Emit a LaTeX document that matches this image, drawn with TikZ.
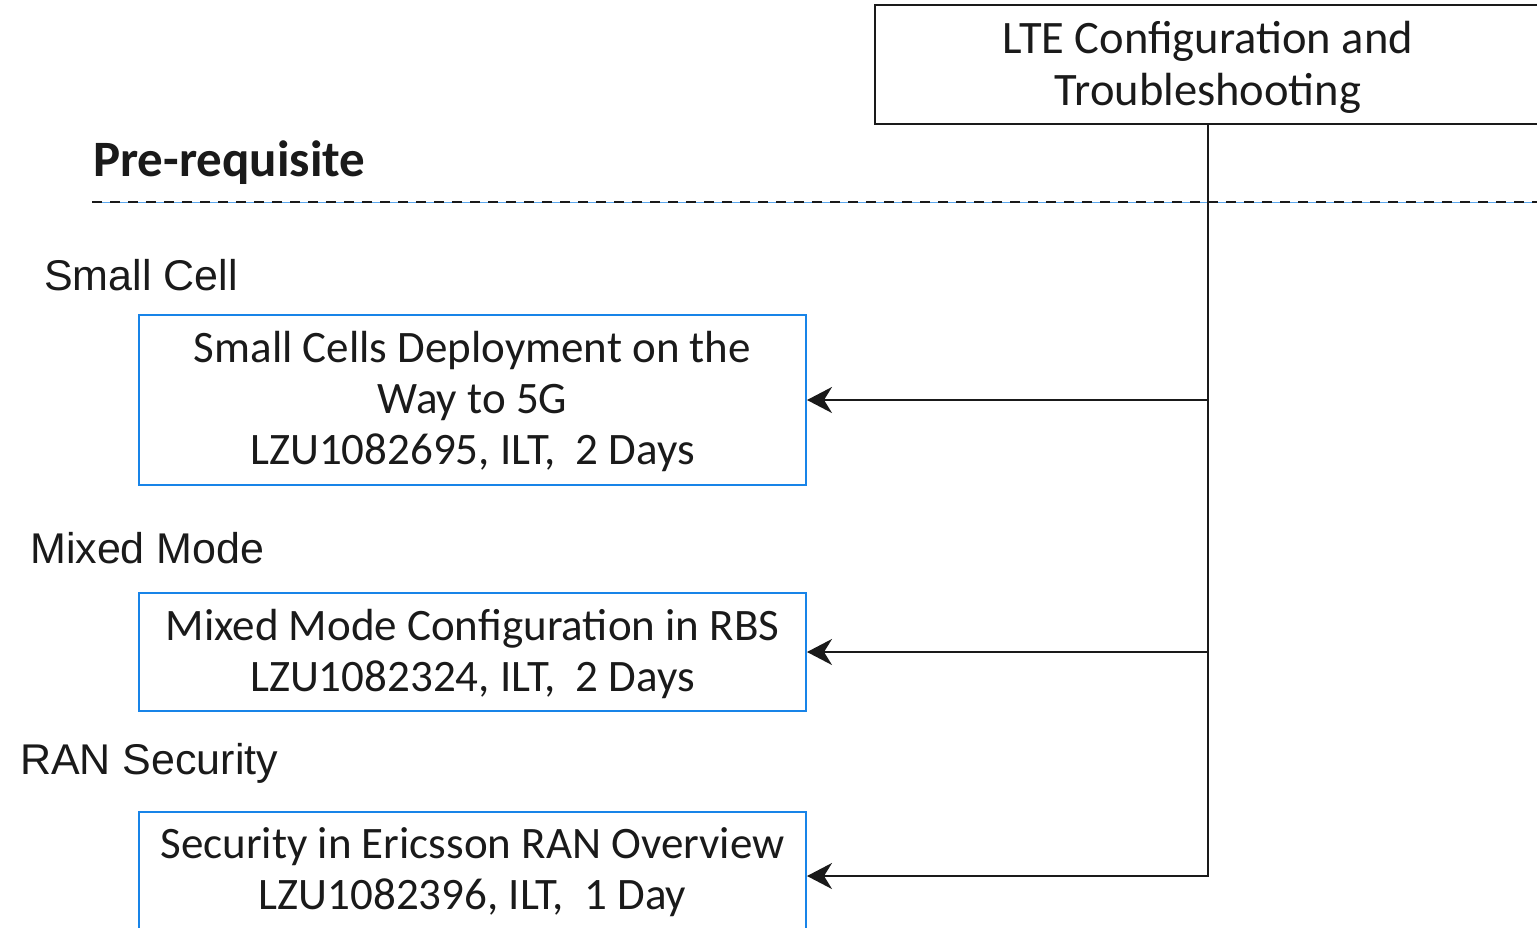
\documentclass[tikz,border=0pt]{standalone}
\usepackage{fontspec}
\setmainfont{Carlito}
\newfontfamily\arialf{Liberation Sans}
\usetikzlibrary{arrows.meta}
\definecolor{ebl}{RGB}{24,132,232}
\definecolor{ink}{RGB}{26,26,26}
\begin{document}
\begin{tikzpicture}[x=1pt,y=-1pt,
  course/.style={draw=ebl,line width=2pt,minimum width=667pt,align=center,inner sep=0pt,text=ink,
     text depth=4pt,font=\fontsize{45}{51}\selectfont},
  topbox/.style={draw=ink,line width=2pt,minimum width=666pt,minimum height=119pt,align=center,inner sep=0pt,text=ink,
     text depth=3pt,font=\fontsize{46.5}{52}\selectfont},
  grp/.style={anchor=west,inner sep=0pt,text=ink,font=\arialf\fontsize{43}{48}\selectfont},
  link/.style={draw=ink,line width=2pt,-{Stealth[length=25pt,width=26pt,inset=8pt]}}]
\useasboundingbox (0,0) rectangle (1537,927);
\clip (0,0) rectangle (1537,927);
\node[topbox] (top) at (1208,64.5) {LTE Configuration and\\Troubleshooting};
\node[anchor=base west,inner sep=0pt,text=ink,font=\bfseries\fontsize{51}{56}\selectfont] (pre) at (93,176) {Pre-requisite};
\coordinate (dl) at (92,202);
\coordinate (dr) at (1537,202);
\draw[ebl!70,line width=1pt] (dl) -- (dr);
\draw[ink,line width=2.5pt,dash pattern=on 10pt off 8pt] (dl) -- (dr);
\node[grp] (g1) at (44,275) {Small Cell};
\node[course,minimum height=170pt] (c1) at (472.5,400) {Small Cells Deployment on the\\Way to 5G\\LZU1082695, ILT,\ \ 2 Days};
\node[grp] (g2) at (30,548) {Mixed Mode};
\node[course,minimum height=118pt] (c2) at (472.5,652) {Mixed Mode Configuration in RBS\\LZU1082324, ILT,\ \ 2 Days};
\node[grp] (g3) at (20,763) {RAN Security};
\node[course,minimum height=118pt] (c3) at (472.5,871) {Security in Ericsson RAN Overview\\LZU1082396, ILT,\ \ 1 Day};
\draw[link] (top.south) |- (c1.east);
\draw[link] (top.south) |- (c2.east);
\draw[link] (top.south) |- ([yshift=-5pt]c3.east);
\end{tikzpicture}
\end{document}
